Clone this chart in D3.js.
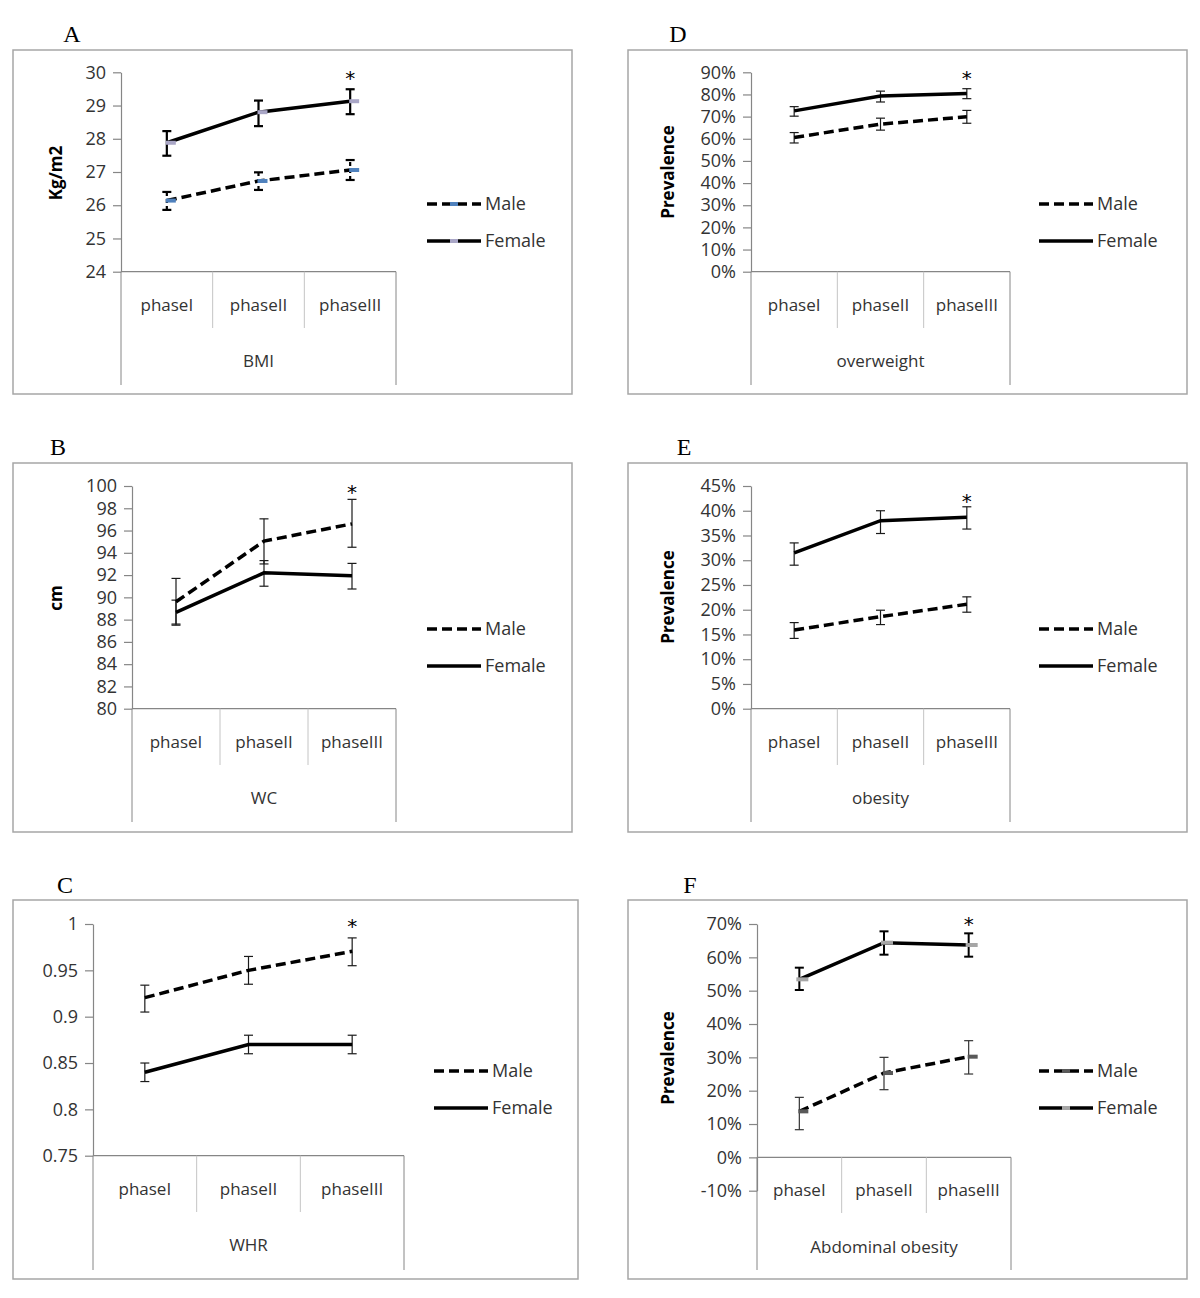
<!DOCTYPE html>
<html><head><meta charset="utf-8">
<script src="https://cdn.jsdelivr.net/npm/d3@7"></script>
<style>
html,body{margin:0;padding:0;background:#fff;}
svg text{font-family:"Open Sans","Liberation Sans",sans-serif;}
</style></head>
<body><svg id="chart" width="1200" height="1298"></svg>
<script>
// ---------- DATA ----------
const phases = ["phaseI", "phaseII", "phaseIII"];
const seriesNames = ["Male", "Female"];

// A: BMI
const bmiTicks = [24, 25, 26, 27, 28, 29, 30];
const bmiMale = [26.14, 26.73, 27.06];
const bmiMaleErr = [[25.86, 26.40], [26.46, 26.99], [26.76, 27.36]];
const bmiFemale = [27.88, 28.80, 29.13];
const bmiFemaleErr = [[27.49, 28.23], [28.38, 29.15], [28.74, 29.49]];

// B: WC
const wcTicks = [80, 82, 84, 86, 88, 90, 92, 94, 96, 98, 100];
const wcMale = [89.6, 95.05, 96.6];
const wcMaleErr = [[87.5, 91.7], [93.0, 97.05], [94.5, 98.8]];
const wcFemale = [88.65, 92.2, 91.95];
const wcFemaleErr = [[87.6, 89.75], [91.0, 93.3], [90.75, 93.05]];

// C: WHR
const whrTicks = [0.75, 0.8, 0.85, 0.9, 0.95, 1];
const whrMale = [0.9205, 0.950, 0.9705];
const whrMaleErr = [[0.905, 0.934], [0.935, 0.965], [0.955, 0.985]];
const whrFemale = [0.84, 0.87, 0.87];
const whrFemaleErr = [[0.83, 0.85], [0.86, 0.88], [0.86, 0.88]];

// D: overweight (%)
const owTicks = [0, 10, 20, 30, 40, 50, 60, 70, 80, 90];
const owMale = [60.6, 66.6, 69.9];
const owMaleErr = [[58.1, 62.8], [63.9, 69.3], [67.0, 72.8]];
const owFemale = [72.6, 79.3, 80.4];
const owFemaleErr = [[70.2, 74.5], [76.6, 81.5], [78.1, 82.6]];

// E: obesity (%)
const obTicks = [0, 5, 10, 15, 20, 25, 30, 35, 40, 45];
const obMale = [15.9, 18.6, 21.1];
const obMaleErr = [[14.2, 17.4], [17.0, 19.9], [19.5, 22.6]];
const obFemale = [31.5, 38.0, 38.7];
const obFemaleErr = [[29.0, 33.5], [35.4, 40.0], [36.3, 40.8]];

// F: abdominal obesity (%)
const aoTicks = [-10, 0, 10, 20, 30, 40, 50, 60, 70];
const aoMale = [13.8, 25.3, 30.2];
const aoMaleErr = [[8.3, 18.0], [20.3, 30.0], [25.0, 35.0]];
const aoFemale = [53.4, 64.4, 63.7];
const aoFemaleErr = [[50.2, 56.9], [60.8, 67.8], [60.2, 67.2]];

const panelLetters = ["A", "B", "C", "D", "E", "F"];
const groupLabels = ["BMI", "WC", "WHR", "overweight", "obesity", "Abdominal obesity"];
const yTitles = ["Kg/m2", "cm", "", "Prevalence", "Prevalence", "Prevalence"];
const starLabel = "*";

// ---------- LAYOUT ----------
const svg = d3.select("#chart");
const pct = d => d + "%";
const plain = d => String(d);

const panels = [
  {letter: panelLetters[0], lx: 72, ly: 42, frame: [13, 50, 572, 394], ax: 121, ar: 396, yTop: 72.3, yBot: 271.7,
   ticks: bmiTicks, fmt: plain, male: bmiMale, maleErr: bmiMaleErr, female: bmiFemale, femaleErr: bmiFemaleErr,
   group: groupLabels[0], ytitle: yTitles[0], ytx: 56, yty: 173, catY: 305, grpY: 361, sepB: 328, outB: 385,
   legX: 427, legY: [204, 241], starY: 76, style: "A"},
  {letter: panelLetters[1], lx: 58, ly: 455, frame: [13, 463, 572, 832], ax: 132, ar: 396, yTop: 486, yBot: 708.7,
   ticks: wcTicks, fmt: plain, male: wcMale, maleErr: wcMaleErr, female: wcFemale, femaleErr: wcFemaleErr,
   group: groupLabels[1], ytitle: yTitles[1], ytx: 56, yty: 598, catY: 742, grpY: 798, sepB: 765, outB: 822,
   legX: 427, legY: [629, 666], starY: 490, style: "thin"},
  {letter: panelLetters[2], lx: 65, ly: 893, frame: [13, 900, 578, 1279], ax: 93, ar: 404, yTop: 924, yBot: 1155.7,
   ticks: whrTicks, fmt: plain, male: whrMale, maleErr: whrMaleErr, female: whrFemale, femaleErr: whrFemaleErr,
   group: groupLabels[2], ytitle: yTitles[2], ytx: 40, yty: 1040, catY: 1189, grpY: 1245, sepB: 1212, outB: 1270,
   legX: 434, legY: [1071, 1108], starY: 924, style: "thin"},
  {letter: panelLetters[3], lx: 678, ly: 42, frame: [628, 50, 1187, 394], ax: 751, ar: 1010, yTop: 72.3, yBot: 271.7,
   ticks: owTicks, fmt: pct, male: owMale, maleErr: owMaleErr, female: owFemale, femaleErr: owFemaleErr,
   group: groupLabels[3], ytitle: yTitles[3], ytx: 668, yty: 172, catY: 305, grpY: 361, sepB: 328, outB: 385,
   legX: 1039, legY: [204, 241], starY: 76, style: "thin"},
  {letter: panelLetters[4], lx: 684, ly: 455, frame: [628, 463, 1187, 832], ax: 751, ar: 1010, yTop: 486, yBot: 708.7,
   ticks: obTicks, fmt: pct, male: obMale, maleErr: obMaleErr, female: obFemale, femaleErr: obFemaleErr,
   group: groupLabels[4], ytitle: yTitles[4], ytx: 668, yty: 597, catY: 742, grpY: 798, sepB: 765, outB: 822,
   legX: 1039, legY: [629, 666], starY: 499, style: "thin"},
  {letter: panelLetters[5], lx: 690, ly: 893, frame: [628, 900, 1187, 1279], ax: 757, ar: 1011, yTop: 924, yBot: 1190.7,
   ticks: aoTicks, fmt: pct, male: aoMale, maleErr: aoMaleErr, female: aoFemale, femaleErr: aoFemaleErr,
   group: groupLabels[5], ytitle: yTitles[5], ytx: 668, yty: 1058, catY: 1190, grpY: 1247, sepB: 1213, outB: 1270,
   legX: 1039, legY: [1071, 1108], starY: 922, style: "F", baseline: 0}
];

const AXIS = "#868686", SEP = "#c4c4c4", FRAME = "#a6a6a6", TXT = "#333333";

panels.forEach(p => {
  const g = svg.append("g");
  g.append("rect").attr("x", p.frame[0]).attr("y", p.frame[1])
    .attr("width", p.frame[2] - p.frame[0]).attr("height", p.frame[3] - p.frame[1])
    .attr("fill", "none").attr("stroke", FRAME).attr("stroke-width", 1.5);
  g.append("text").attr("x", p.lx).attr("y", p.ly).attr("text-anchor", "middle")
    .style("font-family", "'Liberation Serif','DejaVu Serif',serif").style("font-size", "24px")
    .attr("fill", "#000").text(p.letter);

  const y = d3.scaleLinear().domain([d3.min(p.ticks), d3.max(p.ticks)]).range([p.yBot, p.yTop]);
  const x = d3.scaleBand().domain(phases).range([p.ax, p.ar]);
  const cx = d => x(d) + x.bandwidth() / 2;
  const base = p.baseline !== undefined ? y(p.baseline) : y(d3.min(p.ticks));

  const yAxis = d3.axisLeft(y).tickValues(p.ticks).tickFormat(p.fmt).tickSize(8).tickSizeOuter(0).tickPadding(7);
  const ya = g.append("g").attr("transform", `translate(${p.ax},0)`).call(yAxis);
  ya.select(".domain").attr("stroke", AXIS).attr("stroke-width", 1.2);
  ya.selectAll(".tick line").attr("stroke", AXIS).attr("stroke-width", 1.2);
  ya.selectAll(".tick text").attr("fill", TXT).style("font-size", "18px")
    .style("font-family", "'Open Sans',sans-serif");

  g.append("line").attr("x1", p.ax).attr("x2", p.ar).attr("y1", base).attr("y2", base)
    .attr("stroke", AXIS).attr("stroke-width", 1.2);
  const bounds = phases.map(d => x(d)).concat([p.ar]);
  bounds.forEach((bx, i) => {
    const outer = (i === 0 || i === bounds.length - 1);
    g.append("line").attr("x1", bx).attr("x2", bx).attr("y1", base).attr("y2", outer ? p.outB : p.sepB)
      .attr("stroke", outer ? AXIS : SEP).attr("stroke-width", 1);
  });
  g.selectAll(".cat").data(phases).join("text")
    .attr("x", d => cx(d)).attr("y", p.catY).attr("dy", "0.35em").attr("text-anchor", "middle")
    .attr("fill", TXT).style("font-size", "17px").text(d => d);
  g.append("text").attr("x", (p.ax + p.ar) / 2).attr("y", p.grpY).attr("dy", "0.35em")
    .attr("text-anchor", "middle").attr("fill", TXT).style("font-size", "17px").text(p.group);

  if (p.ytitle) {
    g.append("text").attr("transform", `translate(${p.ytx},${p.yty}) rotate(-90)`)
      .attr("text-anchor", "middle").attr("dy", "0.35em").attr("fill", "#000")
      .style("font-size", "17px").style("font-weight", "bold").text(p.ytitle);
  }

  const series = [
    {name: seriesNames[0], vals: p.male, err: p.maleErr, dash: "10,5"},
    {name: seriesNames[1], vals: p.female, err: p.femaleErr, dash: null}
  ];

  series.forEach((s, si) => {
    let sw = 1.2, col = "#1a1a1a", dash = null, cap = 4.5;
    if (p.style === "A") { sw = 2.2; col = "#000"; cap = 4.5; if (si === 0) dash = "4,3"; }
    if (p.style === "F") { if (si === 1) { sw = 2; col = "#000"; } else { sw = 1.2; col = "#333"; } }
    const eg = g.append("g");
    phases.forEach((ph, i) => {
      const xx = cx(ph), lo = y(s.err[i][0]), hi = y(s.err[i][1]);
      eg.append("line").attr("x1", xx).attr("x2", xx).attr("y1", lo).attr("y2", hi)
        .attr("stroke", col).attr("stroke-width", sw).attr("stroke-dasharray", dash);
      [lo, hi].forEach(yy => eg.append("line").attr("x1", xx - cap).attr("x2", xx + cap)
        .attr("y1", yy).attr("y2", yy).attr("stroke", col).attr("stroke-width", sw));
    });
  });

  const line = d3.line().x((d, i) => cx(phases[i])).y(d => y(d));
  series.forEach(s => {
    g.append("path").datum(s.vals).attr("d", line).attr("fill", "none")
      .attr("stroke", "#000").attr("stroke-width", 3.5).attr("stroke-dasharray", s.dash);
  });

  const markerCols = p.style === "A" ? ["#4f81bd", "#a9a6c6"] : (p.style === "F" ? ["#595959", "#a6a6a6"] : null);
  if (markerCols) {
    series.forEach((s, si) => {
      g.selectAll(null).data(s.vals).join("rect")
        .attr("x", (d, i) => cx(phases[i]) - (si === 1 && p.style === "F" ? 3 : 1))
        .attr("y", d => y(d) - 2).attr("width", si === 1 && p.style === "F" ? 12 : 10).attr("height", 4)
        .attr("fill", markerCols[si]);
    });
  }

  g.append("text").attr("x", cx(phases[2])).attr("y", p.starY + 9).attr("text-anchor", "middle")
    .attr("fill", "#000").style("font-size", "20px").style("font-family", "'DejaVu Sans',sans-serif").text(starLabel);

  series.forEach((s, si) => {
    const ly = p.legY[si];
    g.append("line").attr("x1", p.legX).attr("x2", p.legX + 54).attr("y1", ly).attr("y2", ly)
      .attr("stroke", "#000").attr("stroke-width", 3.5).attr("stroke-dasharray", s.dash);
    if (markerCols) {
      g.append("rect").attr("x", p.legX + 23).attr("y", ly - 2).attr("width", 8).attr("height", 4).attr("fill", markerCols[si]);
    }
    g.append("text").attr("x", p.legX + 58).attr("y", ly).attr("dy", "0.35em").attr("fill", TXT)
      .style("font-size", "18px").text(s.name);
  });
});
</script></body></html>
